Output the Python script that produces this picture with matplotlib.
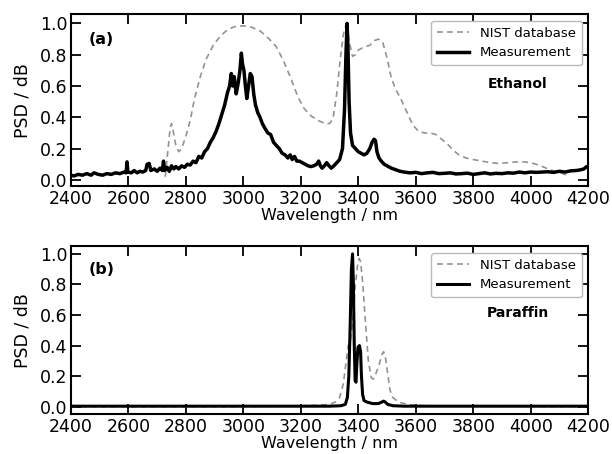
import numpy as np
import matplotlib.pyplot as plt

# (a) ethanol: measured spectrum
eth_wl = [2400, 2410, 2425, 2440, 2455, 2470, 2480, 2495, 2510, 2525, 2540, 2555, 2570, 2585,
          2592, 2595, 2598, 2610, 2620, 2630, 2640, 2650, 2660, 2665, 2672, 2678, 2690, 2700,
          2710, 2718, 2722, 2726, 2735, 2742, 2750, 2758, 2765, 2775, 2785, 2795, 2805, 2815,
          2825, 2835, 2845, 2855, 2865, 2875, 2885, 2895, 2905, 2915, 2925, 2935, 2945, 2952,
          2958, 2963, 2968, 2975, 2982, 2988, 2993, 2997, 3002, 3007, 3012, 3018, 3024, 3030,
          3036, 3042, 3050, 3058, 3066, 3075, 3085, 3095, 3105, 3115, 3125, 3135, 3145, 3155,
          3163, 3170, 3178, 3186, 3195, 3205, 3215, 3225, 3235, 3245, 3255, 3262, 3268, 3274,
          3282, 3290, 3298, 3306, 3315, 3325, 3335, 3345, 3352, 3357, 3361, 3364, 3368, 3373,
          3380, 3390, 3400, 3410, 3420, 3430, 3440, 3448, 3455, 3460, 3465, 3472, 3480, 3490,
          3500, 3515, 3530, 3545, 3560, 3580, 3600, 3620, 3640, 3660, 3680, 3700, 3720, 3740,
          3760, 3780, 3800, 3820, 3840, 3860, 3880, 3900, 3920, 3940, 3960, 3980, 4000, 4020,
          4040, 4060, 4080, 4100, 4120, 4140, 4160, 4175, 4185, 4195, 4200]
eth_meas = [0.03, 0.025, 0.035, 0.03, 0.04, 0.03, 0.045, 0.035, 0.03, 0.04, 0.035, 0.045, 0.04, 0.05,
            0.045, 0.115, 0.05, 0.045, 0.06, 0.045, 0.055, 0.05, 0.06, 0.1, 0.105, 0.06, 0.07, 0.055,
            0.075, 0.06, 0.12, 0.06, 0.08, 0.055, 0.09, 0.07, 0.085, 0.07, 0.09, 0.08, 0.1, 0.095,
            0.12, 0.11, 0.15, 0.14, 0.18, 0.2, 0.24, 0.27, 0.31, 0.36, 0.42, 0.48, 0.56, 0.6,
            0.68, 0.6, 0.66, 0.55, 0.62, 0.7, 0.81, 0.74, 0.7, 0.6, 0.52, 0.6, 0.68, 0.66,
            0.55, 0.48, 0.43, 0.4, 0.36, 0.33, 0.3, 0.29, 0.24, 0.22, 0.2, 0.17, 0.16, 0.14,
            0.16, 0.13, 0.15, 0.12, 0.12, 0.11, 0.1, 0.09, 0.085, 0.09, 0.1, 0.12, 0.09, 0.075,
            0.09, 0.11, 0.09, 0.075, 0.09, 0.11, 0.13, 0.2, 0.45, 0.8, 1.0, 0.85, 0.5, 0.3,
            0.22, 0.2, 0.18, 0.17, 0.16, 0.17, 0.2, 0.24, 0.26, 0.25, 0.18, 0.14, 0.12, 0.1,
            0.09, 0.075, 0.065, 0.055, 0.05, 0.045, 0.048, 0.04, 0.045, 0.048, 0.04, 0.042, 0.045, 0.038,
            0.04, 0.043, 0.035, 0.04, 0.045, 0.038, 0.042, 0.04, 0.045, 0.043, 0.05, 0.045, 0.05, 0.048,
            0.05, 0.052, 0.048, 0.055, 0.05, 0.058, 0.06, 0.065, 0.07, 0.085, 0.08]

# (a) ethanol: NIST reference
eth_nist_wl = [2728, 2738, 2745, 2750, 2757, 2765, 2775, 2785, 2800, 2815, 2830, 2850, 2870, 2895,
               2920, 2945, 2970, 3000, 3030, 3060, 3090, 3115, 3140, 3165, 3190, 3210, 3235, 3260,
               3285, 3300, 3312, 3325, 3337, 3348, 3355, 3362, 3370, 3380, 3390, 3400, 3420, 3440,
               3455, 3470, 3485, 3500, 3515, 3530, 3550, 3570, 3590, 3610, 3630, 3650, 3670, 3690,
               3710, 3730, 3750, 3775, 3800, 3830, 3860, 3890, 3920, 3950, 3980, 4010, 4035, 4060,
               4085, 4105, 4125]
eth_nist = [0.02, 0.2, 0.33, 0.36, 0.3, 0.22, 0.18, 0.2, 0.28, 0.38, 0.52, 0.66, 0.77, 0.86,
            0.92, 0.96, 0.98, 0.985, 0.975, 0.95, 0.9, 0.85, 0.76, 0.65, 0.53, 0.46, 0.41, 0.38,
            0.36, 0.36, 0.39, 0.55, 0.77, 0.93, 0.98, 0.97, 0.87, 0.79, 0.8, 0.83, 0.85, 0.86,
            0.89, 0.9, 0.88, 0.78, 0.65, 0.58, 0.51, 0.43, 0.35, 0.31, 0.3, 0.3, 0.29, 0.26,
            0.23, 0.19, 0.16, 0.14, 0.13, 0.12, 0.11, 0.105, 0.11, 0.115, 0.115, 0.105, 0.09, 0.07,
            0.055, 0.045, 0.03]

# (b) paraffin: measured spectrum
par_wl = [2400, 3300, 3340, 3355, 3362, 3367, 3372, 3376, 3380, 3383, 3386, 3389, 3392, 3395,
          3399, 3404, 3408, 3411, 3415, 3420, 3430, 3450, 3470, 3482, 3488, 3494, 3502, 3520,
          3560, 4200]
par_meas = [0.003, 0.003, 0.006, 0.015, 0.06, 0.2, 0.55, 0.9, 1.0, 0.8, 0.4, 0.17, 0.16, 0.28,
            0.39, 0.4, 0.36, 0.2, 0.08, 0.04, 0.03, 0.02, 0.02, 0.03, 0.036, 0.03, 0.015, 0.006,
            0.003, 0.003]

# (b) paraffin: NIST reference
par_nist_wl = [2400, 3000, 3200, 3260, 3300, 3320, 3335, 3348, 3358, 3365, 3372, 3380, 3390, 3398,
               3403, 3408, 3415, 3425, 3435, 3445, 3452, 3462, 3472, 3482, 3488, 3494, 3502, 3510,
               3520, 3540, 3570, 3600, 3700, 4200]
par_nist = [0.0, 0.0, 0.005, 0.01, 0.015, 0.03, 0.06, 0.15, 0.3, 0.4, 0.42, 0.55, 0.8, 0.93,
            0.97, 0.95, 0.82, 0.55, 0.3, 0.19, 0.18, 0.22, 0.27, 0.34, 0.36, 0.33, 0.22, 0.11,
            0.06, 0.03, 0.015, 0.008, 0.003, 0.0]

x_ticks = np.arange(2400, 4201, 200)
y_ticks = [0.0, 0.2, 0.4, 0.6, 0.8, 1.0]

fig = plt.figure(figsize=(6.12, 4.54), dpi=100)
ax1 = fig.add_axes([0.116, 0.590, 0.845, 0.379])
ax2 = fig.add_axes([0.116, 0.0875, 0.845, 0.3700])

panels = [
    (ax1, eth_nist_wl, eth_nist, eth_wl, eth_meas, '(a)', 'Ethanol', (-0.04, 1.06), 2.5),
    (ax2, par_nist_wl, par_nist, par_wl, par_meas, '(b)', 'Paraffin', (-0.05, 1.05), 2.2),
]

for ax, nwl, nv, mwl, mv, tag, name, ylim, lw in panels:
    ax.plot(nwl, nv, color='#939393', lw=1.2, ls=(0, (3.5, 2.5)), label='NIST database')
    ax.plot(mwl, mv, color='black', lw=lw, label='Measurement')
    ax.set_xlim(2400, 4200)
    ax.set_ylim(*ylim)
    ax.set_xticks(x_ticks)
    ax.set_yticks(y_ticks)
    ax.set_yticklabels(['%.1f' % t for t in y_ticks])
    ax.tick_params(direction='in', length=7.5, width=1.3, labelsize=12.5,
                   top=True, right=True, pad=2.5)
    for sp in ax.spines.values():
        sp.set_linewidth(1.5)
    ax.set_xlabel('Wavelength / nm', fontsize=11.5, labelpad=0)
    ax.set_ylabel('PSD / dB', fontsize=12.5, labelpad=6)
    ax.text(2505, 0.9, tag, fontsize=11.5, fontweight='bold', ha='center', va='center')
    ax.text(3955, 0.61, name, fontsize=10, fontweight='bold', ha='center', va='center')
    ax.legend(loc='upper right', fontsize=9.5, handlelength=2.4, borderpad=0.45,
              labelspacing=0.5, framealpha=1, edgecolor='#bbbbbb')

fig.savefig('out.png', dpi=100)
